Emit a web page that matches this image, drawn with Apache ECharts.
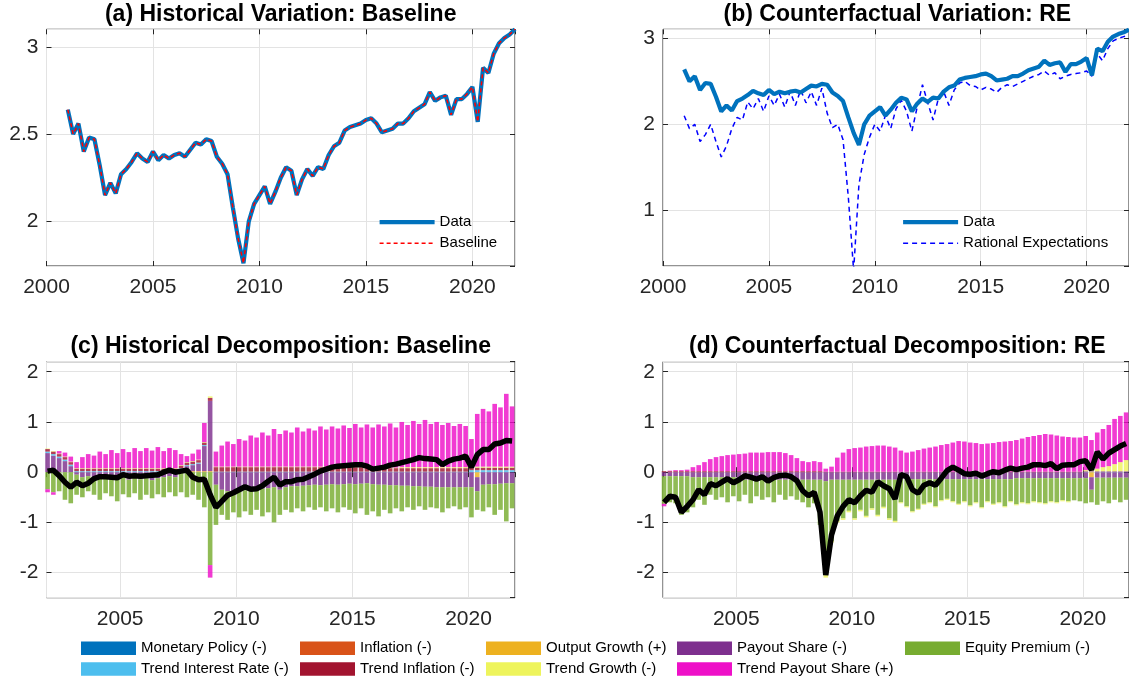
<!DOCTYPE html>
<html>
<head>
<meta charset="utf-8">
<script src="https://cdn.jsdelivr.net/npm/echarts@6/dist/echarts.min.js"></script>
<style>
  html, body { margin: 0; padding: 0; background: #fff; }
  #chart { width: 1129px; height: 681px; }
</style>
</head>
<body>
<div id="chart"></div>
<script>
// ---- top panels: quarterly, 2001Q1 .. 2022Q1 ----
const dataLine = [
  2.64, 2.50, 2.56, 2.40, 2.48, 2.47, 2.32, 2.15, 2.22, 2.16,
  2.27, 2.30, 2.34, 2.39, 2.36, 2.34, 2.40, 2.35, 2.38, 2.36,
  2.38, 2.39, 2.37, 2.41, 2.45, 2.44, 2.47, 2.46, 2.37, 2.33,
  2.27, 2.08, 1.90, 1.76, 2.00, 2.10, 2.15, 2.20, 2.10, 2.17,
  2.25, 2.31, 2.29, 2.15, 2.24, 2.30, 2.26, 2.31, 2.30, 2.38,
  2.43, 2.45, 2.52, 2.54, 2.55, 2.56, 2.58, 2.59, 2.56, 2.51,
  2.52, 2.53, 2.56, 2.56, 2.59, 2.63, 2.65, 2.67, 2.74, 2.69,
  2.71, 2.72, 2.61, 2.70, 2.70, 2.73, 2.77, 2.57, 2.88, 2.85,
  2.96, 3.02, 3.05, 3.07, 3.10
];
// baseline model fit sits exactly on the data
const baselineLine = dataLine;
const reLine = [
  2.10, 1.95, 2.00, 1.80, 1.88, 2.00, 1.80, 1.62, 1.75, 1.95,
  2.08, 2.05, 2.26, 2.18, 2.30, 2.15, 2.33, 2.22, 2.35, 2.20,
  2.38, 2.22, 2.40, 2.25, 2.38, 2.22, 2.42, 2.13, 1.96, 2.00,
  1.82, 1.15, 0.30, 1.30, 1.65, 1.85, 2.00, 1.92, 2.10, 1.95,
  2.18, 2.28, 2.15, 1.92, 2.20, 2.46, 2.25, 2.05, 2.30, 2.38,
  2.22, 2.40, 2.48, 2.50, 2.45, 2.44, 2.40, 2.43, 2.41, 2.37,
  2.43, 2.46, 2.44, 2.47, 2.50, 2.53, 2.56, 2.58, 2.62, 2.57,
  2.60, 2.53, 2.56, 2.58, 2.59, 2.60, 2.62, 2.56, 2.82, 2.74,
  2.88, 2.97, 3.00, 3.02, 3.04
];

// ---- bottom panels: quarterly contributions, 2001Q4 .. 2021Q4 ----
const factorNames = ['Monetary Policy (-)', 'Inflation (-)', 'Output Growth (+)', 'Payout Share (-)', 'Equity Premium (-)',
  'Trend Interest Rate (-)', 'Trend Inflation (-)', 'Trend Growth (-)', 'Trend Payout Share (+)'];
const factorColors = ['#0072BD', '#D95319', '#EDB120', '#7E2F8E', '#77AC30', '#4DBEEE', '#A2142F', '#EEF45C', '#EE10C8'];

// (c) baseline
const mpC = [
  0,0,0,0,0,0,0,0,0,0, 0,0,0,0,0,0,0,0,0,0, 0,0,0,0,0,0,0,0,0,0, 0,0,0,0,0,0,0,0,0,0,
  0,0,0,0,0,0,0,0,0,0, 0,0,0,0,0,0,0,0,0,0, 0,0,0,0,0,0,0,0,0,0, 0,0,0,0,0,0,0,0,0,0, 0
];
const inflC = [
  0,0,0,0,0,0,0,0,0,0, 0,0,0,0,0,0,0,0,0,0, 0,0,0,0,0,0,0,0,0,0, 0,0,0,0,0,0,0,0,0,0,
  0,0,0,0,0,0,0,0,0,0, 0,0,0,0,0,0,0,0,0,0, 0,0,0,0,0,0,0,0,0,0, 0,0,0,0,0,0,0,0,0,0, 0
];
const ogC = [
  0,0,0,0,0,0,0,0,0,0, 0,0,0,0,0,0,0,0,0,0, 0,0,0,0,0.02,0.02,0.02,0.02,0.02,0, 0,0,0,0,0,0,0,0,0,0,
  0,0,0,0,0,0,0,0,0,0, 0,0,0,0,0,0,0,0,0,0, 0,0,0,0,0,0,0,0,0,0, 0,0,0,0,-0.10,0,0,0,0,0, 0
];
const psC = [
  0.38, 0.33, 0.28, 0.22, 0.12, -0.05, -0.10, -0.08, -0.12, -0.10,
  -0.12, -0.15, -0.12, -0.10, -0.15, -0.12, -0.14, -0.12, -0.16, -0.12,
  -0.10, -0.08, -0.10, 0.06, 0.10, 0.12, 0.15, 0.50, 1.40, -0.25,
  -0.35, -0.38, -0.40, -0.38, -0.36, -0.35, -0.33, -0.33, -0.32, -0.30,
  -0.35, -0.30, -0.28, -0.28, -0.27, -0.26, -0.25, -0.26, -0.25, -0.24,
  -0.25, -0.24, -0.23, -0.24, -0.23, -0.22, -0.24, -0.25, -0.25, -0.26,
  -0.26, -0.27, -0.27, -0.28, -0.28, -0.29, -0.29, -0.30, -0.30, -0.30,
  -0.30, -0.30, -0.30, -0.30, -0.28, -0.25, -0.24, -0.24, -0.23, -0.22,
  -0.22
];
const epC = [
  -0.34, -0.40, -0.38, -0.55, -0.62, -0.40, -0.40, -0.30, -0.33, -0.45,
  -0.30, -0.33, -0.46, -0.34, -0.35, -0.30, -0.41, -0.33, -0.36, -0.32,
  -0.40, -0.32, -0.38, -0.40, -0.50, -0.45, -0.55, -0.70, -1.85, -0.80,
  -0.50, -0.57, -0.40, -0.52, -0.42, -0.50, -0.42, -0.55, -0.48, -0.70,
  -0.50, -0.45, -0.52, -0.44, -0.51, -0.44, -0.50, -0.44, -0.53, -0.48,
  -0.55, -0.46, -0.52, -0.58, -0.49, -0.63, -0.54, -0.63, -0.50, -0.56,
  -0.46, -0.51, -0.43, -0.47, -0.40, -0.46, -0.41, -0.42, -0.50, -0.42,
  -0.38, -0.44, -0.40, -0.60, -0.37, -0.53, -0.46, -0.61, -0.52, -0.76,
  -0.50
];
const tirC = [
  0.03,0.03,0.03,0.03,0.03,0.02,0.02,0.02,0.02,0.02, 0.02,0.02,0.02,0.02,0.02,0.02,0.02,0.02,0.02,0.02,
  0.02,0.02,0.02,0.02,0.02,0.02,0.02,0.02,0,0.01, 0.01,0.01,0.01,0.01,0.01,0.01,0.01,0.01,0.01,0.01,
  0.01,0.01,0.01,0.01,0.01,0.01,0.01,0.01,0.01,0.01, 0.01,0.01,0.01,0.01,0.01,0.01,0.01,0.01,0.01,0.01,
  0.01,0.01,0.01,0.01,0.01,0.01,0.01,0.01,0.01,0.01, 0.01,0.01,0.01,0.04,0.04,0.04,0.04,0.04,0.04,0.04,
  0.04
];
const tiC = [
  0.05,0.05,0.05,0.05,0.05,0.05,0.05,0.05,0.05,0.05, 0.05,0.05,0.05,0.05,0.05,0.05,0.05,0.05,0.05,0.05,
  0.05,0.05,0.05,0.05,0.05,0.05,0.05,0.05,0.06,0.09, 0.09,0.09,0.09,0.09,0.09,0.09,0.09,0.09,0.09,0.09,
  0.09,0.09,0.09,0.09,0.09,0.09,0.09,0.09,0.09,0.09, 0.09,0.09,0.09,0.09,0.09,0.09,0.07,0.07,0.07,0.07,
  0.07,0.07,0.07,0.07,0.07,0.07,0.07,0.07,0.07,0.07, 0.07,0.07,0.07,0.05,0.05,0.05,0.05,0.05,0.05,0.05,
  0.05
];
const tgC = [
  0.01,0.01,0.01,0.01,0.01,0.01,0.01,0.01,0.01,0.01, 0.01,0.01,0.01,0.01,0.01,0.01,0.01,0.01,0.01,0.01,
  0.01,0.01,0.01,0.01,0.01,0.01,0.01,0.01,0.03,0.01, 0.01,0.01,0.01,0.01,0.01,0.01,0.01,0.01,0.01,0.01,
  0.01,0.01,0.01,0.01,0.01,0.01,0.01,0.01,0.01,0.01, 0.01,0.01,0.01,0.01,0.01,0.01,0.01,0.01,0.01,0.01,
  0.01,0.02,0.02,0.02,0.02,0.02,0.02,0.02,0.02,0.02, 0.02,0.02,0.02,0.02,0.02,0.02,0.02,0.02,0.02,0.02,
  0.02
];
const tpsC = [
  -0.06, -0.05, 0.05, 0.08, 0.10, 0.12, 0.22, 0.28, 0.25, 0.33,
  0.28, 0.36, 0.30, 0.38, 0.32, 0.40, 0.34, 0.40, 0.35, 0.42,
  0.34, 0.40, 0.36, 0.22, 0.12, 0.15, 0.20, 0.38, -0.25, 0.30,
  0.42, 0.50, 0.45, 0.55, 0.52, 0.62, 0.58, 0.68, 0.62, 0.75,
  0.65, 0.72, 0.68, 0.78, 0.70, 0.76, 0.72, 0.80, 0.74, 0.80,
  0.76, 0.82, 0.77, 0.85, 0.78, 0.84, 0.80, 0.86, 0.82, 0.88,
  0.80, 0.90, 0.84, 0.92, 0.86, 0.94, 0.86, 0.90, 0.84, 0.88,
  0.82, 0.86, 0.82, 0.55, 1.05, 1.15, 1.10, 1.25, 1.18, 1.45,
  1.20
];
const totalC = [
  0.02, 0.04, -0.07, -0.20, -0.30, -0.20, -0.27, -0.22, -0.13, -0.09,
  -0.09, -0.10, -0.11, -0.05, -0.08, -0.07, -0.08, -0.07, -0.06, -0.05,
  0.00, 0.04, 0.00, 0.02, 0.04, -0.10, -0.15, -0.14, -0.45, -0.70,
  -0.58, -0.46, -0.41, -0.35, -0.29, -0.34, -0.33, -0.27, -0.18, -0.10,
  -0.26, -0.19, -0.19, -0.15, -0.14, -0.09, -0.04, 0.02, 0.06, 0.10,
  0.12, 0.13, 0.14, 0.15, 0.15, 0.12, 0.06, 0.08, 0.10, 0.14,
  0.16, 0.19, 0.22, 0.25, 0.29, 0.27, 0.26, 0.25, 0.15, 0.22,
  0.26, 0.28, 0.32, 0.10, 0.35, 0.45, 0.45, 0.56, 0.58, 0.63,
  0.62
];

// (d) rational expectations
const mpD = [
  0,0,0,0,0,0,0,0,0,0, 0,0,0,0,0,0,0,0,0,0, 0,0,0,0,0,0,0,0,0,0, 0,0,0,0,0,0,0,0,0,0,
  0,0,0,0,0,0,0,0,0,0, 0,0,0,0,0,0,0,0,0,0, 0,0,0,0,0,0,0,0,0,0, 0,0,0,0,0,0,0,0,0,0, 0
];
const inflD = [
  0,0,0,0,0,0,0,0,0,0, 0,0,0,0,0,0,0,0,0,0, 0,0,0,0,0,0,0,0,0,0, 0,0,0,0,0,0,0,0,0,0,
  0,0,0,0,0,0,0,0,0,0, 0,0,0,0,0,0,0,0,0,0, 0,0,0,0,0,0,0,0,0,0, 0,0,0,0,0,0,0,0,0,0, 0
];
const ogD = [
  0,0,0,0,0,0,0,0,0,0, 0,0,0,0,0,0,0,0,0,0, 0,0,0,0,0,0,0,0,0,0, 0,0,0,0,0,0,0,0,0,0,
  0,0,0,0,0,0,0,0,0,0, 0,0,0,0,0,0,0,0,0,0, 0,0,0,0,0,0,0,0,0,0, 0,0,0,0,-0.10,0,0,0,0,0, 0
];
const psD = [
  -0.08,-0.08,-0.08,-0.08,-0.08,-0.10,-0.10,-0.10,-0.10,-0.10,
  -0.10,-0.10,-0.10,-0.15,-0.15,-0.15,-0.15,-0.15,-0.15,-0.15,
  -0.15,-0.15,-0.15,-0.15,-0.15,-0.15,-0.15,-0.15,-0.18,-0.15,
  -0.15,-0.15,-0.15,-0.15,-0.15,-0.15,-0.15,-0.15,-0.15,-0.15,
  -0.15,-0.14,-0.14,-0.14,-0.14,-0.14,-0.14,-0.14,-0.14,-0.14,
  -0.14,-0.14,-0.14,-0.14,-0.14,-0.14,-0.14,-0.14,-0.14,-0.14,
  -0.14,-0.12,-0.12,-0.12,-0.12,-0.12,-0.12,-0.12,-0.12,-0.12,
  -0.12,-0.12,-0.12,-0.12,-0.25,-0.11,-0.11,-0.11,-0.11,-0.11,
  -0.11
];
const epD = [
  -0.55, -0.52, -0.54, -0.77, -0.72, -0.60, -0.45, -0.55, -0.35, -0.45,
  -0.40, -0.50, -0.38, -0.43, -0.30, -0.47, -0.33, -0.40, -0.35, -0.45,
  -0.30, -0.40, -0.33, -0.40, -0.45, -0.55, -0.47, -0.90, -1.87, -1.22,
  -0.82, -0.77, -0.62, -0.77, -0.60, -0.72, -0.57, -0.70, -0.54, -0.77,
  -0.82, -0.46, -0.54, -0.64, -0.59, -0.49, -0.46, -0.54, -0.42, -0.39,
  -0.44, -0.49, -0.44, -0.52, -0.46, -0.56, -0.44, -0.49, -0.46, -0.54,
  -0.44, -0.52, -0.48, -0.50, -0.46, -0.48, -0.50, -0.46, -0.48, -0.44,
  -0.46, -0.44, -0.46, -0.50, -0.25, -0.54, -0.47, -0.51, -0.44, -0.49,
  -0.44
];
const tirD = [
  0,0,0,0,0,0,0,0,0,0, 0,0,0,0,0,0,0,0,0,0, 0,0,0,0,0,0,0,0,0,0, 0,0,0,0,0,0,0,0,0,0,
  0,0,0,0,0,0,0,0,0,0, 0,0,0,0,0,0,0,0,0,0, 0,0,0,0,0,0,0,0,0,0,
  0,0,0,0.01,0.01,0.01,0.01,0.01,0.01,0.01, 0.01
];
const tiD = [
  0.02,0.02,0.02,0.02,0.02,0.02,0.02,0.02,0.02,0.02, 0.02,0.02,0.02,0.02,0.02,0.02,0.02,0.02,0.02,0.02,
  0.02,0.02,0.02,0.02,0.02,0.02,0.02,0.02,0.01,0.01, 0.01,0.01,0.01,0.01,0.01,0.01,0.01,0.01,0.01,0.01,
  0.01,0.01,0.01,0.01,0.01,0.01,0.01,0.01,0.01,0.01, 0.01,0.01,0.01,0.01,0.01,0.01,0.01,0.01,0.01,0.01,
  0.01,0.01,0.01,0.01,0.01,0.01,0.01,0.01,0.01,0.01, 0.01,0.01,0.01,0.01,0.01,0.01,0.01,0.01,0.01,0.01,
  0.01
];
const tgD = [
  0,0,0,0,0,0,0,0,0,0, 0,0,0,0,0,0,0,0,0,0, 0,0,0,0,0,0,0,0,-0.05,-0.03,
  -0.03,-0.03,-0.03,-0.03,-0.03,-0.03,-0.03,-0.03,-0.03,-0.03,
  -0.03,-0.02,-0.02,-0.02,-0.02,-0.02,-0.02,-0.02,-0.02,-0.02,
  -0.02,-0.02,-0.02,-0.02,-0.02,-0.02,-0.02,-0.02,-0.02,-0.02,
  -0.02,-0.02,-0.02,-0.02,-0.02,-0.02,-0.02,-0.02,-0.02,-0.02,
  -0.02, 0, 0, 0.02, 0.02, 0.05, 0.08, 0.10, 0.14, 0.18,
  0.22
];
const tpsD = [
  -0.05, 0.01, 0.02, 0.02, 0.03, 0.08, 0.12, 0.18, 0.24, 0.28,
  0.30, 0.32, 0.33, 0.34, 0.35, 0.37, 0.37, 0.37, 0.38, 0.38,
  0.38, 0.36, 0.32, 0.26, 0.20, 0.18, 0.20, 0.18, 0.06, 0.10,
  0.28, 0.38, 0.45, 0.47, 0.48, 0.50, 0.51, 0.52, 0.52, 0.50,
  0.48, 0.42, 0.38, 0.40, 0.43, 0.46, 0.48, 0.50, 0.53, 0.55,
  0.58, 0.61, 0.60, 0.58, 0.57, 0.55, 0.56, 0.57, 0.59, 0.60,
  0.61, 0.63, 0.66, 0.69, 0.71, 0.73, 0.75, 0.74, 0.72, 0.70,
  0.69, 0.68, 0.68, 0.68, 0.60, 0.72, 0.76, 0.82, 0.90, 0.92,
  0.95
];
const totalD = [
  -0.60, -0.48, -0.50, -0.80, -0.68, -0.55, -0.35, -0.45, -0.23, -0.27,
  -0.20, -0.13, -0.21, -0.15, -0.07, -0.10, -0.14, -0.09, -0.18, -0.11,
  -0.07, -0.06, -0.09, -0.17, -0.37, -0.47, -0.40, -0.80, -2.05, -1.25,
  -0.87, -0.68, -0.55, -0.61, -0.47, -0.36, -0.40, -0.19, -0.27, -0.33,
  -0.53, -0.05, -0.09, -0.35, -0.42, -0.26, -0.21, -0.26, -0.12, 0.03,
  0.10, 0.04, -0.03, -0.04, -0.02, -0.08, -0.03, 0.01, -0.01, 0.04,
  0.08, 0.05, 0.08, 0.10, 0.15, 0.15, 0.13, 0.17, 0.07, 0.14,
  0.15, 0.15, 0.21, 0.23, 0.05, 0.40, 0.26, 0.38, 0.45, 0.52,
  0.57
];

// quarter dates as decimal years
const lineDates = dataLine.map((_, i) => 2001 + i / 4);
const barDates = totalC.map((_, i) => 2001.875 + i / 4);
const pts = (xs, ys) => ys.map((v, i) => [xs[i], v]);
// value first so the stack is taken on y (x is a plain value axis too)
const valFirst = (xs, ys) => ys.map((v, i) => [v, xs[i]]);

const FONT = '"Liberation Sans", Arial, Helvetica, sans-serif';
const AX = '#262626';

const grids = [
  { left: 46.5, top: 29.3, width: 468.5, height: 236.7 },
  { left: 663, top: 29.3, width: 468.5, height: 236.7 },
  { left: 46.5, top: 361.7, width: 468.5, height: 236 },
  { left: 663, top: 361.7, width: 468.5, height: 236 }
].map(g => Object.assign(g, { show: true, borderColor: AX, borderWidth: 1, backgroundColor: 'transparent' }));

function xPair(g, min, max, firstLabel) {
  const base = {
    type: 'value', gridIndex: g, min: min, max: max,
    minInterval: 5, maxInterval: 5,
    axisLine: { show: false },
    axisTick: { inside: true, length: 5, lineStyle: { color: AX } }
  };
  return [
    Object.assign({}, base, {
      position: 'bottom',
      splitLine: { show: true, lineStyle: { color: '#e3e3e3' } },
      axisLabel: { fontSize: 21, color: AX, margin: 11, fontFamily: FONT,
        showMinLabel: firstLabel, showMaxLabel: false, formatter: v => String(Math.round(v)) }
    }),
    Object.assign({}, base, { position: 'top', splitLine: { show: false }, axisLabel: { show: false } })
  ];
}

function yPair(g, min, max, step) {
  const base = {
    type: 'value', gridIndex: g, min: min, max: max,
    minInterval: step, maxInterval: step,
    axisLine: { show: false },
    axisTick: { inside: true, length: 5, lineStyle: { color: AX } }
  };
  return [
    Object.assign({}, base, {
      position: 'left',
      splitLine: { show: true, lineStyle: { color: '#e3e3e3' } },
      axisLabel: { fontSize: 21, color: AX, margin: 8, fontFamily: FONT,
        showMinLabel: false, showMaxLabel: false, formatter: v => String(Math.round(v * 10) / 10) }
    }),
    Object.assign({}, base, { position: 'right', splitLine: { show: false }, axisLabel: { show: false } })
  ];
}

function bars(comp, g, stack) {
  return comp.map((vals, k) => ({
    type: 'bar', name: factorNames[k], stack: stack,
    xAxisIndex: 2 * g, yAxisIndex: 2 * g,
    data: valFirst(barDates, vals), encode: { x: 1, y: 0 }, barWidth: 4.6,
    itemStyle: { color: factorColors[k], opacity: 0.82 },
    emphasis: { disabled: true }
  }));
}

function title(text, x, top) {
  return { text: text, left: x, top: top, textAlign: 'center', padding: 0,
    textStyle: { fontSize: 23, fontWeight: 'bold', color: '#000', fontFamily: FONT } };
}

const lineLegend = (left, names) => ({
  data: names, left: left, top: 214.7, orient: 'vertical', padding: 0,
  itemWidth: 55, itemHeight: 14, itemGap: 6, selectedMode: false,
  itemStyle: { opacity: 0 },
  lineStyle: { width: 'inherit', opacity: 1 },
  textStyle: { fontSize: 15, color: '#000', fontFamily: FONT }
});
const legendCols = [[0, 5], [1, 6], [2, 7], [3, 8], [4]];
const legendLefts = [81, 300, 486, 677, 905];
const barLegends = legendCols.map((col, j) => ({
  data: col.map(k => factorNames[k]), left: legendLefts[j], top: 640.7,
  orient: 'vertical', padding: 0, icon: 'rect',
  itemWidth: 55, itemHeight: 13.5, itemGap: 5.8, selectedMode: false,
  itemStyle: { opacity: 1 },
  textStyle: { fontSize: 15, color: '#000', fontFamily: FONT }
}));

const chart = echarts.init(document.getElementById('chart'), null, { renderer: 'canvas' });
chart.setOption({
  animation: false,
  backgroundColor: '#fff',
  textStyle: { fontFamily: FONT },
  title: [
    title('(a) Historical Variation: Baseline', 280.7, 3.5),
    title('(b) Counterfactual Variation: RE', 897.3, 3.5),
    title('(c) Historical Decomposition: Baseline', 280.7, 335),
    title('(d) Counterfactual Decomposition: RE', 897.3, 335)
  ],
  legend: [lineLegend(377.5, ['Data', 'Baseline']), lineLegend(901, ['Data', 'Rational Expectations'])].concat(barLegends),
  grid: grids,
  xAxis: [].concat(xPair(0, 2000, 2022, true), xPair(1, 2000, 2022, true),
    xPair(2, 2001.83, 2022, false), xPair(3, 2001.83, 2022, false)),
  yAxis: [].concat(yPair(0, 1.744, 3.1, 0.5), yPair(1, 0.352, 3.105, 1),
    yPair(2, -2.5, 2.2, 1), yPair(3, -2.5, 2.2, 1)),
  series: [
    { type: 'line', name: 'Data', xAxisIndex: 0, yAxisIndex: 0, data: pts(lineDates, dataLine),
      symbol: 'none', lineStyle: { color: '#0072BD', width: 4.2 }, itemStyle: { color: '#0072BD' }, z: 2 },
    { type: 'line', name: 'Baseline', xAxisIndex: 0, yAxisIndex: 0, data: pts(lineDates, baselineLine),
      symbol: 'none', lineStyle: { color: '#FF0000', width: 1.5, type: [4, 3] }, itemStyle: { color: '#FF0000' }, z: 3 },
    { type: 'line', name: 'Data', xAxisIndex: 2, yAxisIndex: 2, data: pts(lineDates, dataLine),
      symbol: 'none', lineStyle: { color: '#0072BD', width: 4.2 }, itemStyle: { color: '#0072BD' }, z: 3 },
    { type: 'line', name: 'Rational Expectations', xAxisIndex: 2, yAxisIndex: 2, data: pts(lineDates, reLine),
      symbol: 'none', lineStyle: { color: '#0000FF', width: 1.5, type: [5, 4] }, itemStyle: { color: '#0000FF' }, z: 2 }
  ].concat(
    bars([mpC, inflC, ogC, psC, epC, tirC, tiC, tgC, tpsC], 2, 'c'),
    bars([mpD, inflD, ogD, psD, epD, tirD, tiD, tgD, tpsD], 3, 'd'),
    [
      { type: 'line', name: 'total c', xAxisIndex: 4, yAxisIndex: 4, data: pts(barDates, totalC),
        symbol: 'none', lineStyle: { color: '#000', width: 5.5 }, z: 5 },
      { type: 'line', name: 'total d', xAxisIndex: 6, yAxisIndex: 6, data: pts(barDates, totalD),
        symbol: 'none', lineStyle: { color: '#000', width: 5.5 }, z: 5 }
    ]
  )
});
</script>
</body>
</html>
